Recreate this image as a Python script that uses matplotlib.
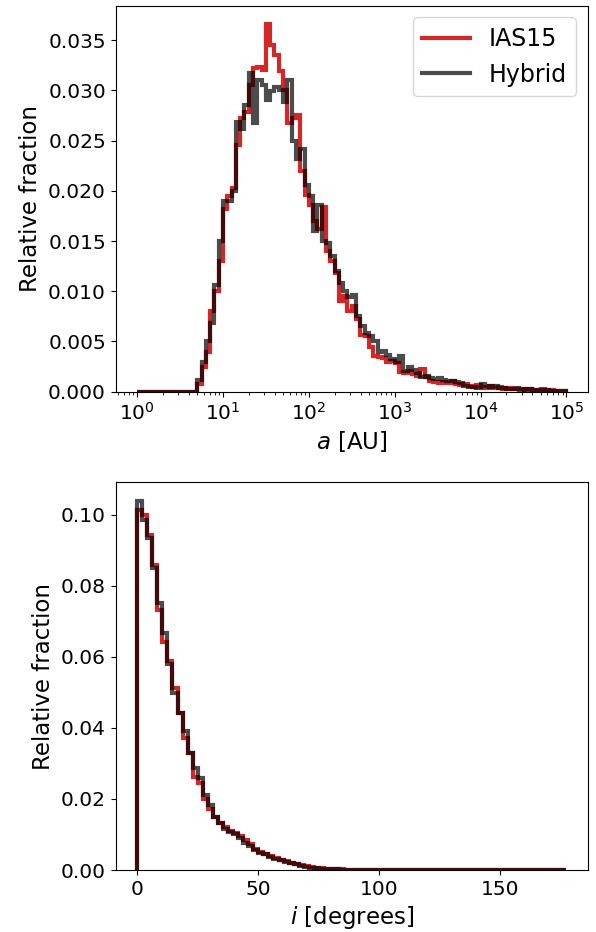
import numpy as np
import matplotlib
matplotlib.use("Agg")
import matplotlib.pyplot as plt
from matplotlib.ticker import MultipleLocator

# semi-major axis histogram: 100 log bins from 1 to 1e5 AU
a_edges = np.logspace(0, 5, 101)
a_ias15 = [0, 0, 0, 0, 0, 0, 0, 0, 0, 0, 0, 0, 0, 0,
           0.0008, 0.0025, 0.0040, 0.0080, 0.0100, 0.0130, 0.0182, 0.0195, 0.0203, 0.0246,
           0.0272, 0.0278, 0.0305, 0.0322, 0.0323, 0.0320, 0.0366, 0.0345, 0.0335, 0.0319,
           0.0300, 0.0268, 0.0272, 0.0275, 0.0220, 0.0196, 0.0186, 0.0170, 0.0162, 0.0184,
           0.0140, 0.0130, 0.0118, 0.0090, 0.0095, 0.0080, 0.0085, 0.0072, 0.0056, 0.0055,
           0.0045, 0.0036, 0.0035, 0.0034, 0.0030, 0.0031, 0.0029, 0.0020, 0.0019, 0.0021,
           0.0018, 0.0016, 0.0023, 0.0015, 0.0011, 0.0010, 0.0009, 0.0010, 0.0009, 0.0011,
           0.0008, 0.0007, 0.0008, 0.0006, 0.0005, 0.0007, 0.0005, 0.0004, 0.0006, 0.0004,
           0.0005, 0.0003, 0.0004, 0.0003, 0.0003, 0.0002, 0.0003, 0.0003, 0.0002, 0.0002,
           0.0003, 0.0001, 0.0002, 0.0001, 0.0001, 0.0001]
a_hybrid = [0, 0, 0, 0, 0, 0, 0, 0, 0, 0, 0, 0, 0, 0,
            0.0012, 0.0030, 0.0050, 0.0068, 0.0106, 0.0150, 0.0190, 0.0190, 0.0200, 0.0269,
            0.0262, 0.0285, 0.0317, 0.0268, 0.0310, 0.0305, 0.0290, 0.0299, 0.0303, 0.0300,
            0.0288, 0.0310, 0.0250, 0.0232, 0.0242, 0.0206, 0.0195, 0.0160, 0.0186, 0.0150,
            0.0148, 0.0135, 0.0120, 0.0108, 0.0100, 0.0094, 0.0096, 0.0075, 0.0065, 0.0058,
            0.0055, 0.0050, 0.0040, 0.0041, 0.0037, 0.0033, 0.0030, 0.0036, 0.0021, 0.0025,
            0.0022, 0.0019, 0.0015, 0.0016, 0.0014, 0.0013, 0.0014, 0.0012, 0.0011, 0.0011,
            0.0010, 0.0009, 0.0006, 0.0005, 0.0005, 0.0004, 0.0008, 0.0006, 0.0005, 0.0006,
            0.0004, 0.0004, 0.0003, 0.0003, 0.0004, 0.0003, 0.0002, 0.0003, 0.0002, 0.0002,
            0.0002, 0.0002, 0.0001, 0.0001, 0.0001, 0.0001]

# inclination histogram: 85 bins from 0 to max inclination
i_edges = np.linspace(0, 177.6, 86)
i_ias15 = [0.1014, 0.1000, 0.0944, 0.0859, 0.0732, 0.0643, 0.0587, 0.0512, 0.0441, 0.0371,
           0.0329, 0.0263, 0.0244, 0.0200, 0.0172, 0.0148, 0.0131, 0.0120, 0.0111, 0.0103,
           0.0095, 0.0084, 0.0072, 0.0060, 0.0050, 0.0046, 0.0039, 0.0034, 0.0029, 0.0024,
           0.0019, 0.0017, 0.0013, 0.0010, 0.0008, 0.0006, 0.0005, 0.0004, 0.0003, 0.0002,
           0.0002, 0.0001, 0.0001, 0.00005, 0.00004, 0.00003, 0.00003, 0.00002, 0.00002, 0.00002,
           0.00001, 0.00001, 0.00001, 0.00001, 0.00001, 0.00001, 0.00001, 0.00001, 0.00001, 0.00001,
           0.00001, 0.00001, 0.00001, 0.00001, 0.00001, 0.00001, 0.00001, 0.00001, 0.00001, 0.00001,
           0.00001, 0.00001, 0.00001, 0.00001, 0.00001, 0.00001, 0.00001, 0.00001, 0.00001, 0.00001,
           0.00001, 0.00001, 0.00001, 0.00001, 0.00001]
i_hybrid = [0.1040, 0.0986, 0.0934, 0.0850, 0.0751, 0.0667, 0.0580, 0.0497, 0.0441, 0.0390,
            0.0329, 0.0286, 0.0258, 0.0212, 0.0183, 0.0150, 0.0133, 0.0115, 0.0108, 0.0101,
            0.0089, 0.0076, 0.0068, 0.0057, 0.0048, 0.0044, 0.0037, 0.0032, 0.0027, 0.0023,
            0.0019, 0.0016, 0.0012, 0.0009, 0.0007, 0.0006, 0.0004, 0.0003, 0.0003, 0.0002,
            0.0001, 0.0001, 0.0001, 0.00005, 0.00004, 0.00003, 0.00002, 0.00002, 0.00002, 0.00001,
            0.00001, 0.00001, 0.00001, 0.00001, 0.00001, 0.00001, 0.00001, 0.00001, 0.00001, 0.00001,
            0.00001, 0.00001, 0.00001, 0.00001, 0.00001, 0.00001, 0.00001, 0.00001, 0.00001, 0.00001,
            0.00001, 0.00001, 0.00001, 0.00001, 0.00001, 0.00001, 0.00001, 0.00001, 0.00001, 0.00001,
            0.00001, 0.00001, 0.00001, 0.00001, 0.00001]

plt.rcParams['font.size'] = 14.5

fig = plt.figure(figsize=(5.96, 9.32), dpi=100)
ax1 = fig.add_axes([0.194, 0.5797, 0.7925, 0.4142])
ax2 = fig.add_axes([0.194, 0.0665, 0.7925, 0.4163])

ias_style = dict(color='tab:red', lw=3)
hyb_style = dict(color='k', lw=3, alpha=0.7)

ax1.stairs(a_ias15, a_edges, **ias_style)
ax1.stairs(a_hybrid, a_edges, **hyb_style)
ax1.set_xscale('log')
ax1.set_xlabel(r'$a$ [AU]', fontsize=16.5)
ax1.set_ylabel('Relative fraction', fontsize=16.5)
ax1.legend(fontsize=17, loc='upper right', handles=[
    plt.Line2D([], [], **ias_style, label='IAS15'),
    plt.Line2D([], [], **hyb_style, label='Hybrid')])

ax2.stairs(i_ias15, i_edges, **ias_style)
ax2.stairs(i_hybrid, i_edges, **hyb_style)
ax2.xaxis.set_major_locator(MultipleLocator(50))
ax2.set_xlabel(r'$i$ [degrees]', fontsize=16.5)
ax2.set_ylabel('Relative fraction', fontsize=16.5)

for ax in (ax1, ax2):
    ax.margins(x=0.05, y=0.05)

fig.savefig('out.png', dpi=100)
